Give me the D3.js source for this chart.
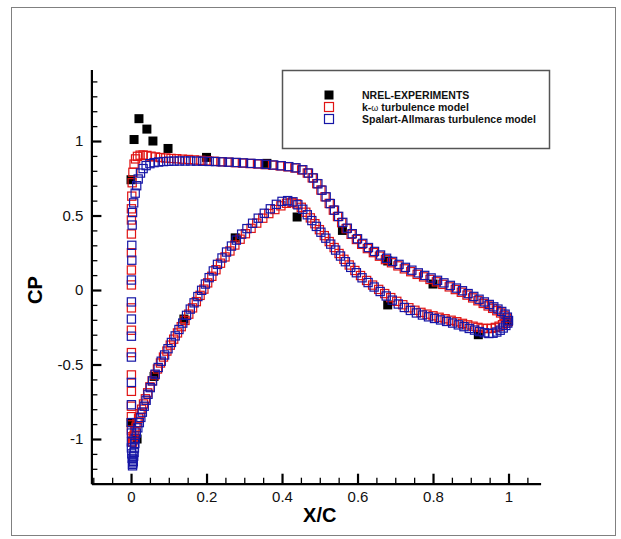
<!DOCTYPE html>
<html>
<head>
<meta charset="utf-8">
<script src="https://cdn.jsdelivr.net/npm/d3@7"></script>
<style>
  html, body { margin: 0; padding: 0; background: #fff; }
  svg { display: block; font-family: "Liberation Sans", Arial, sans-serif; }
</style>
</head>
<body>
<svg id="chart" width="621" height="539"></svg>
<script>
// ---- Data: pressure coefficient along the chord (X/C, CP) ----

// NREL wind-tunnel measurements
const nrelExp = [
  [0.000, 0.74], [0.008, 1.01], [0.021, 1.15], [0.042, 1.08], [0.058, 1.00],
  [0.098, 0.95], [0.200, 0.89], [0.360, 0.85], [0.560, 0.40], [0.680, 0.195],
  [0.800, 0.04], [1.000, -0.21],
  [0.000, -0.89], [0.016, -1.00], [0.061, -0.58], [0.140, -0.195], [0.276, 0.35],
  [0.440, 0.49], [0.680, -0.10], [0.920, -0.30]
];

// k-omega model, suction side (stagnation point -> trailing edge)
const kwUpper = [
  [0.003,-1.02],[0.002,-0.985],[0.001,-0.94],[0.001,-0.85],[0.001,-0.78],[0.001,-0.68],
  [0.001,-0.57],[0.001,-0.42],[0.001,-0.27],[0.001,-0.12],[0.001,0.034],[0.001,0.134],
  [0.001,0.25],[0.001,0.376],[0.001,0.47],[0.001,0.545],[0.002,0.63],[0.003,0.72],
  [0.005,0.79],[0.008,0.845],[0.012,0.88],[0.017,0.897],[0.024,0.905],[0.032,0.906],
  [0.042,0.903],[0.053,0.898],[0.065,0.893],[0.078,0.889],[0.092,0.886],[0.106,0.883],
  [0.121,0.881],[0.136,0.878],[0.152,0.876],[0.168,0.873],[0.185,0.870],[0.202,0.867],
  [0.220,0.864],[0.238,0.861],[0.257,0.858],[0.276,0.855],[0.295,0.852],[0.315,0.849],
  [0.335,0.846],[0.355,0.842],[0.375,0.838],[0.395,0.833],[0.415,0.827],[0.434,0.819],
  [0.452,0.806],[0.467,0.785],[0.480,0.753],[0.492,0.714],[0.503,0.671],[0.514,0.626],
  [0.525,0.581],[0.536,0.536],[0.547,0.493],[0.558,0.452],[0.570,0.412],[0.583,0.374],
  [0.597,0.339],[0.611,0.307],[0.626,0.278],[0.642,0.251],[0.658,0.227],[0.674,0.204],
  [0.690,0.183],[0.707,0.162],[0.724,0.142],[0.741,0.123],[0.758,0.105],[0.775,0.088],
  [0.792,0.071],[0.809,0.055],[0.826,0.038],[0.843,0.021],[0.859,0.003],[0.875,-0.015],
  [0.890,-0.034],[0.905,-0.053],[0.919,-0.072],[0.933,-0.090],[0.946,-0.107],[0.958,-0.123],
  [0.969,-0.139],[0.979,-0.154],[0.988,-0.170],[0.995,-0.188],[0.999,-0.205]
];

// k-omega model, pressure side (stagnation point -> trailing edge)
const kwLower = [
  [0.004,-1.02],[0.006,-1.00],[0.008,-0.975],[0.010,-0.95],[0.013,-0.92],[0.016,-0.89],
  [0.020,-0.86],[0.024,-0.83],[0.028,-0.80],[0.033,-0.765],[0.038,-0.73],[0.044,-0.69],
  [0.050,-0.65],[0.056,-0.61],[0.063,-0.57],[0.070,-0.53],[0.078,-0.49],[0.086,-0.45],
  [0.095,-0.41],[0.104,-0.37],[0.113,-0.33],[0.123,-0.288],[0.133,-0.246],[0.143,-0.204],
  [0.153,-0.162],[0.163,-0.12],[0.173,-0.078],[0.183,-0.036],[0.193,0.006],[0.203,0.048],
  [0.214,0.092],[0.225,0.136],[0.237,0.18],[0.249,0.222],[0.262,0.262],[0.275,0.302],
  [0.289,0.341],[0.303,0.378],[0.318,0.414],[0.333,0.449],[0.349,0.482],[0.365,0.513],
  [0.381,0.54],[0.397,0.565],[0.412,0.582],[0.426,0.588],[0.439,0.578],[0.451,0.555],
  [0.463,0.522],[0.475,0.484],[0.487,0.445],[0.499,0.405],[0.512,0.365],[0.525,0.325],
  [0.538,0.285],[0.551,0.245],[0.564,0.206],[0.578,0.168],[0.593,0.131],[0.608,0.097],
  [0.624,0.064],[0.640,0.033],[0.656,0.004],[0.672,-0.024],[0.688,-0.051],[0.704,-0.076],
  [0.720,-0.099],[0.736,-0.119],[0.752,-0.136],[0.768,-0.150],[0.784,-0.162],[0.800,-0.173],
  [0.816,-0.183],[0.832,-0.193],[0.848,-0.203],[0.863,-0.213],[0.878,-0.224],[0.892,-0.234],
  [0.906,-0.243],[0.919,-0.251],[0.932,-0.257],[0.944,-0.259],[0.955,-0.257],[0.965,-0.251],
  [0.975,-0.243],[0.984,-0.233],[0.992,-0.223],[0.998,-0.213]
];

// Spalart-Allmaras model, suction side
const saUpper = [
  [0.004,-1.17],[0.006,-1.15],[0.003,-1.13],[0.002,-1.10],[0.001,-1.06],[0.001,-1.02],
  [0.001,-0.96],[0.001,-0.89],[0.001,-0.77],[0.001,-0.62],[0.001,-0.45],[0.001,-0.31],
  [0.001,-0.195],[0.001,-0.08],[0.001,0.067],[0.002,0.20],[0.002,0.30],[0.003,0.436],
  [0.004,0.52],[0.007,0.585],[0.011,0.65],[0.015,0.70],[0.019,0.745],[0.025,0.785],
  [0.032,0.815],[0.040,0.835],[0.050,0.848],[0.061,0.855],[0.073,0.859],[0.086,0.862],
  [0.100,0.864],[0.114,0.865],[0.128,0.866],[0.143,0.866],[0.158,0.866],[0.174,0.865],
  [0.190,0.864],[0.207,0.863],[0.224,0.862],[0.242,0.860],[0.260,0.858],[0.279,0.856],
  [0.298,0.853],[0.318,0.850],[0.338,0.847],[0.358,0.843],[0.378,0.839],[0.398,0.834],
  [0.418,0.828],[0.437,0.820],[0.455,0.807],[0.470,0.785],[0.483,0.752],[0.495,0.713],
  [0.506,0.670],[0.517,0.625],[0.528,0.580],[0.539,0.536],[0.550,0.494],[0.561,0.454],
  [0.573,0.415],[0.586,0.378],[0.600,0.344],[0.614,0.313],[0.629,0.285],[0.645,0.259],
  [0.661,0.235],[0.677,0.213],[0.693,0.192],[0.710,0.172],[0.727,0.152],[0.744,0.133],
  [0.761,0.115],[0.778,0.098],[0.795,0.081],[0.812,0.065],[0.829,0.048],[0.846,0.031],
  [0.862,0.013],[0.878,-0.005],[0.893,-0.024],[0.908,-0.043],[0.922,-0.062],[0.936,-0.080],
  [0.949,-0.097],[0.961,-0.113],[0.972,-0.128],[0.982,-0.144],[0.991,-0.162],[0.997,-0.182],
  [1.000,-0.205]
];

// Spalart-Allmaras model, pressure side
const saLower = [
  [0.004,-1.18],[0.005,-1.16],[0.006,-1.14],[0.007,-1.115],[0.008,-1.09],[0.009,-1.06],
  [0.010,-1.03],[0.011,-0.995],[0.014,-0.96],[0.018,-0.925],[0.022,-0.89],[0.026,-0.855],
  [0.030,-0.82],[0.035,-0.78],[0.040,-0.74],[0.045,-0.70],[0.051,-0.655],[0.057,-0.61],
  [0.064,-0.565],[0.072,-0.52],[0.080,-0.478],[0.089,-0.436],[0.098,-0.394],[0.107,-0.352],
  [0.117,-0.308],[0.127,-0.265],[0.137,-0.222],[0.147,-0.17],[0.157,-0.128],[0.167,-0.086],
  [0.177,-0.044],[0.187,-0.002],[0.197,0.04],[0.207,0.083],[0.218,0.128],[0.229,0.172],
  [0.241,0.215],[0.253,0.255],[0.266,0.295],[0.279,0.335],[0.293,0.375],[0.307,0.412],
  [0.322,0.448],[0.337,0.482],[0.353,0.515],[0.369,0.545],[0.385,0.575],[0.400,0.595],
  [0.415,0.600],[0.429,0.592],[0.442,0.572],[0.455,0.542],[0.467,0.505],[0.479,0.466],
  [0.491,0.427],[0.503,0.388],[0.516,0.348],[0.529,0.308],[0.542,0.268],[0.555,0.228],
  [0.568,0.19],[0.582,0.152],[0.597,0.116],[0.612,0.082],[0.628,0.05],[0.644,0.02],
  [0.660,-0.01],[0.676,-0.04],[0.692,-0.068],[0.708,-0.094],[0.724,-0.117],[0.740,-0.137],
  [0.756,-0.154],[0.772,-0.168],[0.788,-0.18],[0.804,-0.191],[0.820,-0.201],[0.836,-0.211],
  [0.852,-0.222],[0.867,-0.234],[0.882,-0.246],[0.896,-0.258],[0.910,-0.269],[0.923,-0.279],
  [0.936,-0.287],[0.948,-0.292],[0.959,-0.29],[0.969,-0.282],[0.978,-0.27],[0.986,-0.255],
  [0.993,-0.238],[0.998,-0.222]
];

// Axis ticks
const xMajorTicks = [0, 0.2, 0.4, 0.6, 0.8, 1];
const xMinorTicks = [-0.1, -0.05, 0.05, 0.1, 0.15, 0.25, 0.3, 0.35, 0.45, 0.5, 0.55, 0.65, 0.7, 0.75, 0.85, 0.9, 0.95, 1.05];
const yMajorTicks = [-1, -0.5, 0, 0.5, 1];
const yMinorTicks = [-1.2, -1.1, -0.9, -0.8, -0.7, -0.6, -0.4, -0.3, -0.2, -0.1, 0.1, 0.2, 0.3, 0.4, 0.6, 0.7, 0.8, 0.9, 1.1, 1.2, 1.3, 1.4];

// Legend entries
const legendLabels = ["NREL-EXPERIMENTS", "k-\u03c9 turbulence model", "Spalart-Allmaras turbulence model"];
const colors = { exp: "#000000", kw: "#e01414", sa: "#1616a6" };

// ---- Drawing ----
const svg = d3.select("#chart");

// page frame
svg.append("rect")
  .attr("x", 11.5).attr("y", 7.5).attr("width", 604).attr("height", 528)
  .attr("fill", "none").attr("stroke", "#808080").attr("stroke-width", 1);

const x = d3.scaleLinear().domain([-0.105, 1.085]).range([91.4, 540.6]);
const y = d3.scaleLinear().domain([-1.3, 1.48]).range([483.7, 69.5]);

const fmt = d => String(d);

// minor ticks
svg.append("g").attr("transform", `translate(0,${y(-1.3)})`)
  .call(d3.axisBottom(x).tickValues(xMinorTicks).tickSize(-6).tickSizeOuter(0).tickFormat(""))
  .call(g => g.select(".domain").remove())
  .call(g => g.selectAll("line").attr("stroke", "#000").attr("stroke-width", 1.3));
svg.append("g").attr("transform", `translate(${x(-0.105)},0)`)
  .call(d3.axisLeft(y).tickValues(yMinorTicks).tickSize(-6).tickSizeOuter(0).tickFormat(""))
  .call(g => g.select(".domain").remove())
  .call(g => g.selectAll("line").attr("stroke", "#000").attr("stroke-width", 1.3));

// major ticks + labels
const xAxis = svg.append("g").attr("transform", `translate(0,${y(-1.3)})`)
  .call(d3.axisBottom(x).tickValues(xMajorTicks).tickSize(-10).tickSizeOuter(0).tickPadding(8).tickFormat(fmt));
const yAxis = svg.append("g").attr("transform", `translate(${x(-0.105)},0)`)
  .call(d3.axisLeft(y).tickValues(yMajorTicks).tickSize(-10).tickSizeOuter(0).tickPadding(8).tickFormat(fmt));

[xAxis, yAxis].forEach(g => {
  g.select(".domain").attr("stroke", "#000").attr("stroke-width", 2.2);
  g.selectAll(".tick line").attr("stroke", "#000").attr("stroke-width", 2.2);
  g.selectAll(".tick text")
    .attr("font-family", "Liberation Sans, Arial, sans-serif")
    .attr("font-size", 15).attr("fill", "#111");
});

// axis titles
svg.append("text")
  .attr("x", x(0.5)).attr("y", 522)
  .attr("text-anchor", "middle")
  .attr("font-size", 20).attr("font-weight", "bold").attr("fill", "#000")
  .text("X/C");
svg.append("text")
  .attr("transform", `translate(42,${y(0)}) rotate(-90)`)
  .attr("text-anchor", "middle")
  .attr("font-size", 20).attr("font-weight", "bold").attr("fill", "#000")
  .text("CP");

// symbols
const plot = svg.append("g");
const hollow = 8.2, solid = 9;

plot.append("g").selectAll("rect").data(nrelExp).join("rect")
  .attr("x", d => x(d[0]) - solid / 2).attr("y", d => y(d[1]) - solid / 2)
  .attr("width", solid).attr("height", solid).attr("fill", colors.exp);

function hollowSeries(data, color) {
  plot.append("g").selectAll("rect").data(data).join("rect")
    .attr("x", d => x(d[0]) - hollow / 2).attr("y", d => y(d[1]) - hollow / 2)
    .attr("width", hollow).attr("height", hollow)
    .attr("fill", "none").attr("stroke", color).attr("stroke-width", 1.2);
}
hollowSeries(kwUpper, colors.kw);
hollowSeries(kwLower, colors.kw);
hollowSeries(saUpper, colors.sa);
hollowSeries(saLower, colors.sa);

// legend
const legend = svg.append("g");
legend.append("rect")
  .attr("x", 282.5).attr("y", 70.5).attr("width", 267).attr("height", 78)
  .attr("fill", "#fff").attr("stroke", "#555").attr("stroke-width", 1.5);

const rowY = [95, 107, 119];
const markerX = 329;
legend.append("rect")
  .attr("x", markerX - 4.5).attr("y", rowY[0] - 4.5).attr("width", 9).attr("height", 9)
  .attr("fill", colors.exp);
legend.append("rect")
  .attr("x", markerX - 4.5).attr("y", rowY[1] - 4.5).attr("width", 9).attr("height", 9)
  .attr("fill", "none").attr("stroke", colors.kw).attr("stroke-width", 1.2);
legend.append("rect")
  .attr("x", markerX - 4.5).attr("y", rowY[2] - 4.5).attr("width", 9).attr("height", 9)
  .attr("fill", "none").attr("stroke", colors.sa).attr("stroke-width", 1.2);

legend.selectAll("text.lab").data(legendLabels).join("text")
  .attr("class", "lab")
  .attr("x", 362).attr("y", (d, i) => rowY[i] + 4)
  .attr("font-size", 10.5).attr("font-weight", "bold").attr("fill", "#111")
  .each(function (d) {
    const t = d3.select(this);
    if (d.includes("\u03c9")) {
      const [a, b] = d.split("\u03c9");
      t.append("tspan").text(a);
      t.append("tspan").attr("font-weight", "normal").attr("font-size", 9).text("\u03c9");
      t.append("tspan").text(b);
    } else {
      t.text(d);
    }
  });
</script>
</body>
</html>
